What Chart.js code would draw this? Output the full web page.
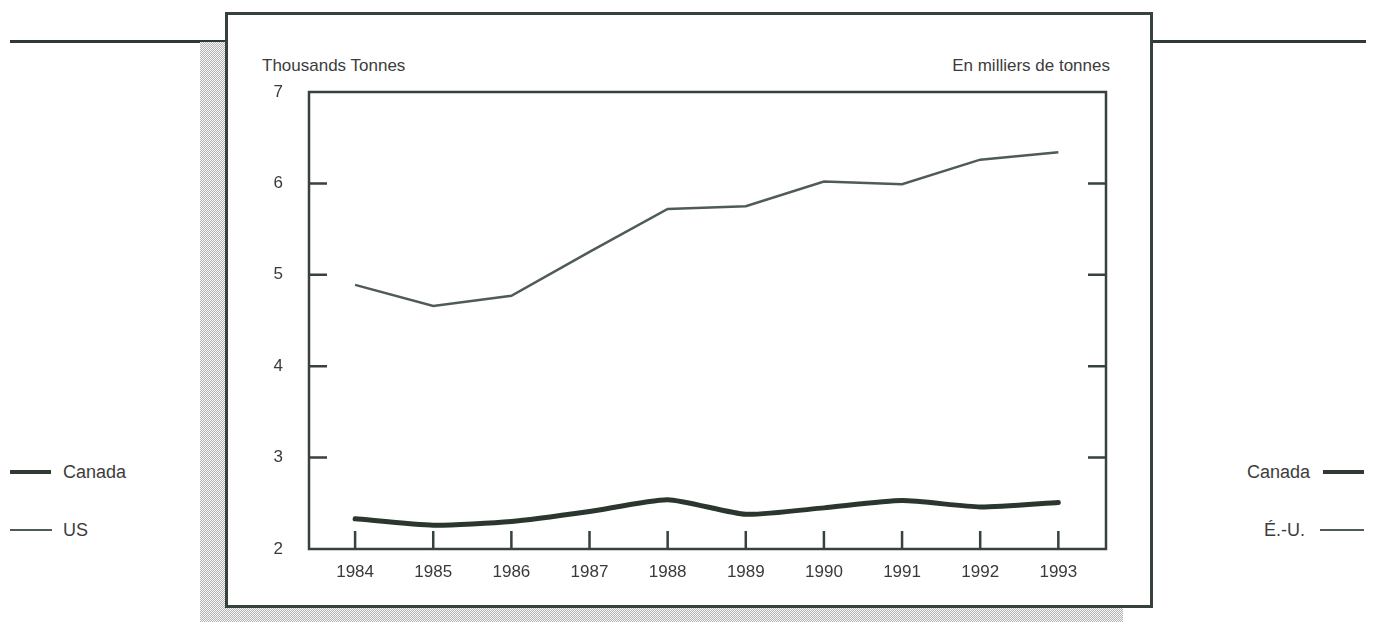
<!DOCTYPE html>
<html>
<head>
<meta charset="utf-8">
<script src="https://cdn.jsdelivr.net/npm/chart.js@4/dist/chart.umd.min.js"></script>
<style>
  body { margin: 0; background: #fff; font-family: "Liberation Sans", Arial, sans-serif; color: #3c3c3c; }
  #page { position: relative; width: 1377px; height: 625px; overflow: hidden; }
  .rule { position: absolute; top: 40px; height: 3px; background: #2f3a32; }
  #shadow { position: absolute; left: 200px; top: 42px; width: 923px; height: 580px;
    background: repeating-conic-gradient(#b4b4b4 0 25%, #f6f6f6 0 50%) 0 0 / 2px 2px; }
  #frame { position: absolute; left: 225px; top: 12px; width: 922px; height: 590px;
    border: 3px solid #36423a; background: #fff; }
  canvas { position: absolute; left: 0; top: 0; }
  .lbl { position: absolute; font-size: 17px; line-height: 20px; white-space: nowrap; }
  .leg { font-size: 18px; }
  .key { position: absolute; background: #2f3a32; }
</style>
</head>
<body>
<div id="page">
  <div class="rule" style="left:10px;width:216px"></div>
  <div class="rule" style="left:1150px;width:216px"></div>
  <div id="shadow"></div>
  <div id="frame"></div>

  <div class="lbl" style="left:262px;top:56px">Thousands Tonnes</div>
  <div class="lbl" style="right:267px;top:56px">En milliers de tonnes</div>

  <div class="key" style="left:10px;top:470px;width:41px;height:4px"></div>
  <div class="lbl leg" style="left:63px;top:462px">Canada</div>
  <div class="key" style="left:10px;top:529px;width:42px;height:2px;background:#4f5c53"></div>
  <div class="lbl leg" style="left:63px;top:520px">US</div>

  <div class="lbl leg" style="right:67px;top:462px">Canada</div>
  <div class="key" style="left:1323px;top:470px;width:41px;height:4px"></div>
  <div class="lbl leg" style="right:72px;top:520px">É.-U.</div>
  <div class="key" style="left:1320px;top:529px;width:44px;height:2px;background:#4f5c53"></div>

  <canvas id="grafico" width="1377" height="625"></canvas>
</div>

<script>
const years = [1984, 1985, 1986, 1987, 1988, 1989, 1990, 1991, 1992, 1993];
const canada = [2.33, 2.26, 2.30, 2.41, 2.54, 2.38, 2.45, 2.53, 2.46, 2.51];
const us = [4.89, 4.66, 4.77, 5.25, 5.72, 5.75, 6.02, 5.99, 6.26, 6.34];
const yTicks = [2, 3, 4, 5, 6, 7];

const frameColor = "#36423a";
const tickFont = { family: "'Liberation Sans', Arial, sans-serif", size: 17 };

// box round the plot + inward tick marks
const marcoPlugin = {
  id: "marco",
  afterDatasetsDraw(chart) {
    const { ctx, chartArea: a, scales } = chart;
    ctx.save();
    ctx.strokeStyle = frameColor;
    ctx.lineWidth = 2.5;
    ctx.strokeRect(a.left, a.top, a.right - a.left, a.bottom - a.top);
    ctx.beginPath();
    years.forEach(v => {
      const x = scales.x.getPixelForValue(v);
      ctx.moveTo(x, a.bottom);
      ctx.lineTo(x, a.bottom - 18);
    });
    yTicks.slice(1, -1).forEach(v => {
      const y = scales.y.getPixelForValue(v);
      ctx.moveTo(a.left, y);
      ctx.lineTo(a.left + 18, y);
      ctx.moveTo(a.right, y);
      ctx.lineTo(a.right - 18, y);
    });
    ctx.stroke();
    ctx.restore();
  }
};

new Chart(document.getElementById("grafico"), {
  type: "line",
  data: {
    datasets: [
      {
        label: "US",
        data: years.map((y, i) => ({ x: y, y: us[i] })),
        borderColor: "#4f5c53",
        borderWidth: 2.5,
        pointRadius: 0,
        tension: 0
      },
      {
        label: "Canada",
        data: years.map((y, i) => ({ x: y, y: canada[i] })),
        borderColor: "#2b362e",
        borderWidth: 5,
        borderCapStyle: "round",
        pointRadius: 0,
        tension: 0.2
      }
    ]
  },
  options: {
    responsive: false,
    animation: false,
    layout: { padding: { left: 250, right: 271, top: 92, bottom: 36 } },
    plugins: { legend: { display: false }, tooltip: { enabled: false } },
    scales: {
      x: {
        type: "linear",
        min: 1983.41,
        max: 1993.61,
        afterFit: s => { s.height = 40; },
        afterBuildTicks: s => { s.ticks = years.map(v => ({ value: v })); },
        grid: { display: false, drawTicks: false },
        border: { display: false },
        ticks: { color: "#3a3a3a", font: tickFont, padding: 13, callback: v => String(v), maxRotation: 0, autoSkip: false }
      },
      y: {
        min: 2,
        max: 7,
        afterFit: s => { s.width = 59; },
        afterBuildTicks: s => { s.ticks = yTicks.map(v => ({ value: v })); },
        grid: { display: false, drawTicks: false },
        border: { display: false },
        ticks: { color: "#3a3a3a", font: tickFont, padding: 26 }
      }
    }
  },
  plugins: [marcoPlugin]
});
</script>
</body>
</html>
